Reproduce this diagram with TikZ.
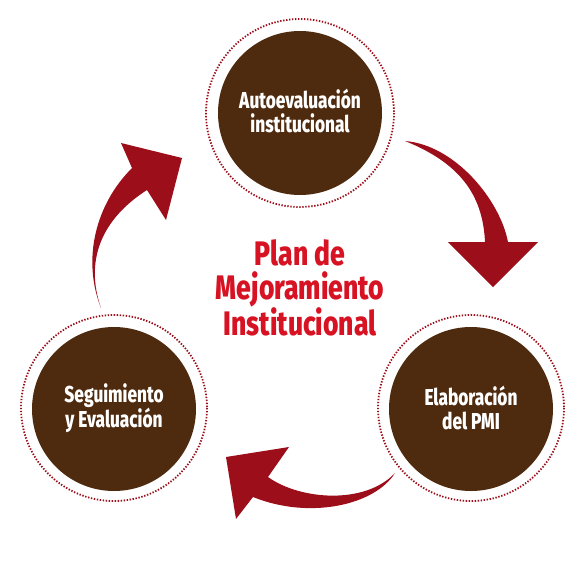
\documentclass[tikz,border=0pt]{standalone}
\usepackage{fontspec}
\setmainfont{Fira Sans}
\newfontfamily\circfont{Fira Sans}[UprightFont=* ExtraBold, FakeStretch=0.75]
\newfontfamily\titlefont{Fira Sans}[UprightFont=* ExtraBold, FakeStretch=0.78]
\definecolor{brownfill}{RGB}{78,42,14}
\definecolor{arrowred}{RGB}{155,14,26}
\definecolor{titlered}{RGB}{215,18,35}
\tikzset{
  stagedisc/.style={circle, fill=brownfill, minimum size=164pt, inner sep=0pt},
  stagetext/.style={text=white, align=center, font=\circfont\fontsize{23}{24}\selectfont},
  dotring/.style={draw=arrowred, line width=1.8pt, dash pattern=on 1.4pt off 1.6pt},
  bigarrow/.style={fill=arrowred, draw=none}
}
\begin{document}
\begin{tikzpicture}[x=1pt,y=-1pt]
\path[use as bounding box] (0,0) rectangle (581,571);
% rings
\draw[dotring] (300,113) circle (94);
\draw[dotring] (114,408) circle (93);
\draw[dotring] (471,408) circle (93);
% discs
\node[stagedisc] (auto) at (300,113) {};
\node[stagedisc] (elab) at (471,409) {};
\node[stagedisc] (segu) at (114,409) {};
\node[stagetext] (autotext) at (300,111) {Autoevaluación\\institucional};
\node[stagetext] (elabtext) at (471,408) {Elaboración\\del PMI};
\node[stagetext] (segutext) at (114,408) {Seguimiento\\y Evaluación};
% title
\node[text=titlered, align=center, font=\titlefont\fontsize{34}{34}\selectfont] (title) at (300,288) {Plan de\\Mejoramiento\\Institucional};
% arrow top-right
\fill[bigarrow] (405,141) .. controls (455,145) and (500,200) .. (508,242) -- (538,242) -- (493,287) -- (448,242) -- (485,242) .. controls (483,200) and (465,165) .. (405,141) -- cycle;
% arrow bottom
\fill[bigarrow] (395,473) .. controls (375,505) and (310,520) .. (253,497) -- (236,519) -- (226,457) -- (289,447) -- (268,477) .. controls (300,500) and (365,505) .. (395,473) -- cycle;
% arrow left
\fill[bigarrow] (101,308) .. controls (82,260) and (95,205) .. (132,168) -- (121,143) -- (182,158) -- (166,220) -- (147,190) .. controls (100,220) and (85,262) .. (101,308) -- cycle;
\end{tikzpicture}
\end{document}
